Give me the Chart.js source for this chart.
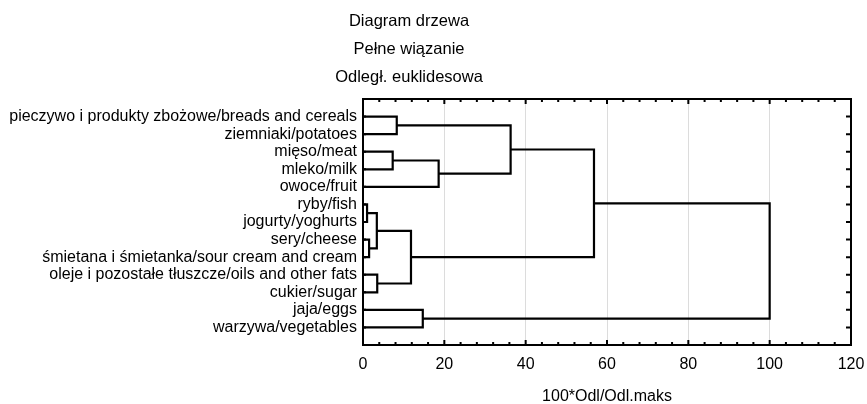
<!DOCTYPE html>
<html>
<head>
<meta charset="utf-8">
<script src="https://cdn.jsdelivr.net/npm/chart.js@4.4.1/dist/chart.umd.min.js"></script>
<style>
  html, body { margin: 0; padding: 0; background: #fff; }
  #wrap { width: 867px; height: 404px; }
</style>
</head>
<body>
<div id="wrap"><canvas id="chart"></canvas></div>
<script>
// leaves, top to bottom
const leaves = [
  'pieczywo i produkty zbożowe/breads and cereals',
  'ziemniaki/potatoes',
  'mięso/meat',
  'mleko/milk',
  'owoce/fruit',
  'ryby/fish',
  'jogurty/yoghurts',
  'sery/cheese',
  'śmietana i śmietanka/sour cream and cream',
  'oleje i pozostałe tłuszcze/oils and other fats',
  'cukier/sugar',
  'jaja/eggs',
  'warzywa/vegetables'
];

// merges: ids < 13 are leaves, 13+k is merge k
const mergeA = [5, 7, 13, 9, 2, 0, 15, 11, 17, 18, 22, 23];
const mergeB = [6, 8, 14, 10, 3, 1, 16, 12, 4, 21, 19, 20];
const mergeHeight = [1.0, 1.5, 3.4, 3.5, 7.3, 8.3, 11.8, 14.7, 18.6, 36.3, 56.8, 100];

const xTicks = [0, 20, 40, 60, 80, 100, 120];
const titleLines = ['Diagram drzewa', 'Pełne wiązanie', 'Odległ. euklidesowa'];
const xTitle = '100*Odl/Odl.maks';

const FONT = "'Liberation Sans', Arial, sans-serif";

// node positions
const nodeY = leaves.map((_, i) => i);
const nodeH = leaves.map(() => 0);
const datasets = [];
mergeA.forEach((a, k) => {
  const b = mergeB[k];
  const h = mergeHeight[k];
  nodeY.push((nodeY[a] + nodeY[b]) / 2);
  nodeH.push(h);
  datasets.push({
    data: [
      { x: nodeH[a], y: nodeY[a] },
      { x: h, y: nodeY[a] },
      { x: h, y: nodeY[b] },
      { x: nodeH[b], y: nodeY[b] }
    ],
    showLine: true,
    borderColor: '#000',
    borderWidth: 2.2,
    pointRadius: 0,
    fill: false,
    tension: 0
  });
});

const framePlugin = {
  id: 'frame',
  afterDraw(chart) {
    const { ctx, chartArea: a, scales } = chart;
    ctx.save();
    ctx.strokeStyle = '#000';
    ctx.lineWidth = 2;
    ctx.strokeRect(a.left, a.top, a.right - a.left, a.bottom - a.top);
    ctx.beginPath();
    for (let v = 0; v <= 120; v += 4) {
      const x = scales.x.getPixelForValue(v);
      const len = v % 20 === 0 ? 5 : 3;
      ctx.moveTo(x, a.bottom); ctx.lineTo(x, a.bottom - len);
      ctx.moveTo(x, a.top); ctx.lineTo(x, a.top + len);
    }
    leaves.forEach((_, i) => {
      const y = scales.y.getPixelForValue(i);
      ctx.moveTo(a.left, y); ctx.lineTo(a.left + 3, y);
      ctx.moveTo(a.right, y); ctx.lineTo(a.right - 5, y);
    });
    ctx.stroke();

    ctx.fillStyle = '#000';
    ctx.font = '16.5px ' + FONT;
    ctx.textAlign = 'center';
    ctx.textBaseline = 'middle';
    titleLines.forEach((t, i) => ctx.fillText(t, 409, 21 + i * 28));
    ctx.font = '16px ' + FONT;
    ctx.fillText(xTitle, (a.left + a.right) / 2, 397);
    ctx.restore();
  }
};

new Chart(document.getElementById('chart'), {
  type: 'scatter',
  data: { datasets },
  options: {
    responsive: true,
    maintainAspectRatio: false,
    animation: false,
    layout: { padding: { top: 99, right: 16, left: 0, bottom: 0 } },
    plugins: { legend: { display: false }, tooltip: { enabled: false } },
    scales: {
      x: {
        type: 'linear',
        min: 0,
        max: 120,
        afterFit: s => { s.height = 59; s.paddingLeft = 0; s.paddingRight = 0; },
        border: { display: false },
        grid: {
          drawTicks: false,
          lineWidth: 1,
          color: c => (xTicks.includes(c.tick.value) && c.tick.value > 0 && c.tick.value < 120) ? '#dcdcdc' : 'rgba(0,0,0,0)'
        },
        ticks: {
          stepSize: 4,
          autoSkip: false,
          maxRotation: 0,
          padding: 10,
          color: '#000',
          font: { family: FONT, size: 16 },
          callback: v => xTicks.includes(v) ? String(v) : ''
        }
      },
      y: {
        type: 'linear',
        reverse: true,
        min: -1,
        max: 13,
        afterFit: s => { s.width = 363; s.paddingTop = 0; s.paddingBottom = 0; },
        border: { display: false },
        grid: { display: false, drawTicks: false },
        ticks: {
          stepSize: 1,
          autoSkip: false,
          padding: 6,
          color: '#000',
          font: { family: FONT, size: 16 },
          callback: v => leaves[v] !== undefined ? leaves[v] : ''
        }
      }
    }
  },
  plugins: [framePlugin]
});
</script>
</body>
</html>
